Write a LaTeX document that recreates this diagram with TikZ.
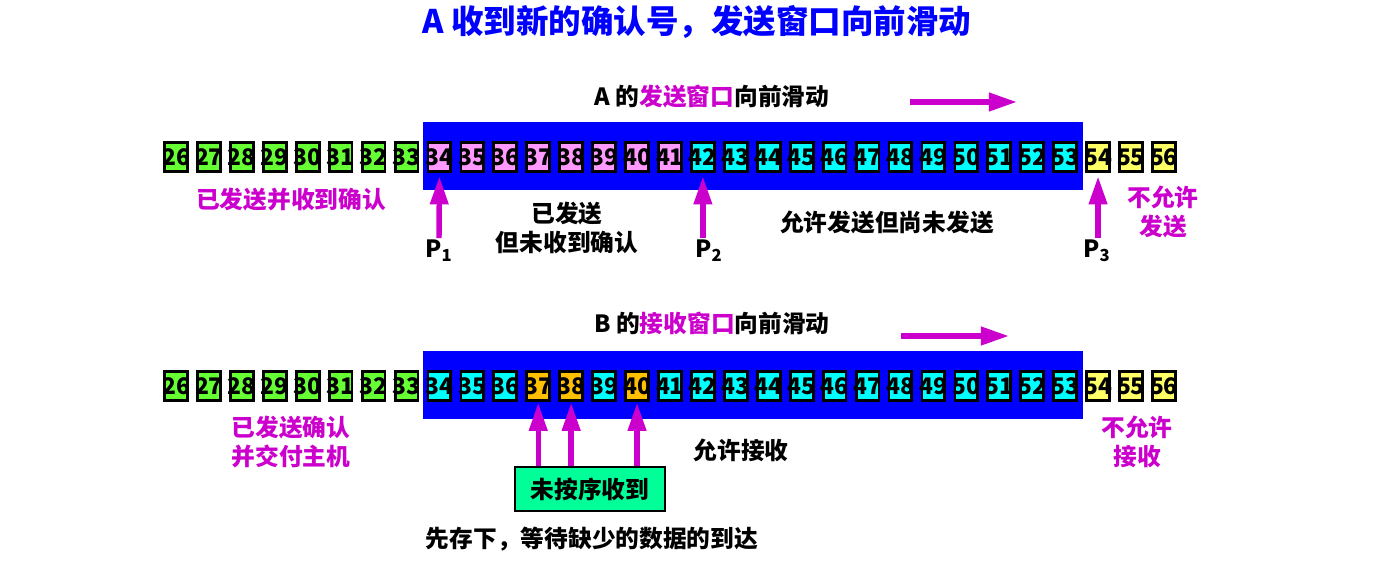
\documentclass[tikz,border=0pt]{standalone}
\usepackage{fontspec}
\setmainfont{Noto Sans CJK SC}
\usetikzlibrary{arrows.meta}
\definecolor{winblue}{RGB}{0,0,255}
\definecolor{mag}{RGB}{204,0,204}
\definecolor{cgreen}{RGB}{102,255,51}
\definecolor{cpink}{RGB}{255,153,255}
\definecolor{ccyan}{RGB}{0,255,255}
\definecolor{cyellow}{RGB}{255,255,102}
\definecolor{corange}{RGB}{255,192,0}
\definecolor{cnote}{RGB}{0,255,153}
\begin{document}
\begin{tikzpicture}[x=0.02cm,y=-0.02cm,
    cell/.style={draw=black,line width=1.6pt,minimum width=13pt,minimum height=16.4pt,
        inner sep=0pt,font=\fontsize{13}{13}\selectfont\bfseries},
    lbl/.style={font=\fontsize{13.5}{16.5}\selectfont\bfseries,align=center,inner sep=1pt},
    pin/.style={draw=mag,line width=3.1pt,-{Triangle[length=16pt,width=10pt]}}]

    \useasboundingbox (0,0) rectangle (1385,564);

    \node[font=\fontsize{18.5}{22}\selectfont\bfseries,text=winblue] (title) at (697,22)
        {A 收到新的确认号，发送窗口向前滑动};

    % windows
    \fill[winblue] (423,122) rectangle (1083,190);
    \fill[winblue] (423,351) rectangle (1083,419);

    % sender A
    \foreach \n in {26,...,33}
        \node[cell,fill=cgreen] (a\n) at ({176+(\n-26)*32.93},157) {\makebox[0pt]{\n}};
    \foreach \n in {34,...,41}
        \node[cell,fill=cpink] (a\n) at ({176+(\n-26)*32.93},157) {\makebox[0pt]{\n}};
    \foreach \n in {42,...,53}
        \node[cell,fill=ccyan] (a\n) at ({176+(\n-26)*32.93},157) {\makebox[0pt]{\n}};
    \foreach \n in {54,55,56}
        \node[cell,fill=cyellow] (a\n) at ({176+(\n-26)*32.93},157) {\makebox[0pt]{\n}};

    \node[lbl] (headA) at (712,97) {A 的\textcolor{mag}{发送窗口}向前滑动};
    \coordinate (slideA0) at (910,102);
    \coordinate (slideA1) at (1017,102);
    \draw[pin] (slideA0) -- (slideA1);

    \node[lbl] (p1) at (439,251) {P\textsubscript{1}};
    \node[lbl] (p2) at (709,251) {P\textsubscript{2}};
    \node[lbl] (p3) at (1097,251) {P\textsubscript{3}};
    \draw[pin,shorten >=2pt] (p1.north) -- (a34.south);
    \draw[pin,shorten >=2pt] (p2.north -| a42) -- (a42.south);
    \draw[pin,shorten >=2pt] (p3.north -| a54) -- (a54.south);

    \node[lbl,text=mag] (doneA) at (291,200) {已发送并收到确认};
    \node[lbl] (sentA) at (567,228) {已发送\\但未收到确认};
    \node[lbl] (allowA) at (887,222) {允许发送但尚未发送};
    \node[lbl,text=mag] (denyA) at (1163,212) {不允许\\发送};

    % receiver B
    \foreach \n in {26,...,33}
        \node[cell,fill=cgreen] (b\n) at ({176+(\n-26)*32.93},386) {\makebox[0pt]{\n}};
    \foreach \n in {34,35,36,39,41,42,43,44,45,46,47,48,49,50,51,52,53}
        \node[cell,fill=ccyan] (b\n) at ({176+(\n-26)*32.93},386) {\makebox[0pt]{\n}};
    \foreach \n in {37,38,40}
        \node[cell,fill=corange] (b\n) at ({176+(\n-26)*32.93},386) {\makebox[0pt]{\n}};
    \foreach \n in {54,55,56}
        \node[cell,fill=cyellow] (b\n) at ({176+(\n-26)*32.93},386) {\makebox[0pt]{\n}};

    \node[lbl] (headB) at (712,323) {B 的\textcolor{mag}{接收窗口}向前滑动};
    \coordinate (slideB0) at (901,336);
    \coordinate (slideB1) at (1009,336);
    \draw[pin] (slideB0) -- (slideB1);

    \node[lbl,fill=cnote,draw=black,line width=1.2pt,minimum width=85.6pt,minimum height=25pt]
        (note) at (590,489) {未按序收到};
    \foreach \n in {37,38,40}
        \draw[pin,shorten >=0.5pt] (note.north -| b\n) -- (b\n.south);

    \node[lbl,text=mag] (doneB) at (291,442) {已发送确认\\并交付主机};
    \node[lbl] (allowB) at (741,450) {允许接收};
    \node[lbl] (wait) at (592,539) {先存下，等待缺少的数据的到达};
    \node[lbl,text=mag] (denyB) at (1137,442) {不允许\\接收};
\end{tikzpicture}
\end{document}
